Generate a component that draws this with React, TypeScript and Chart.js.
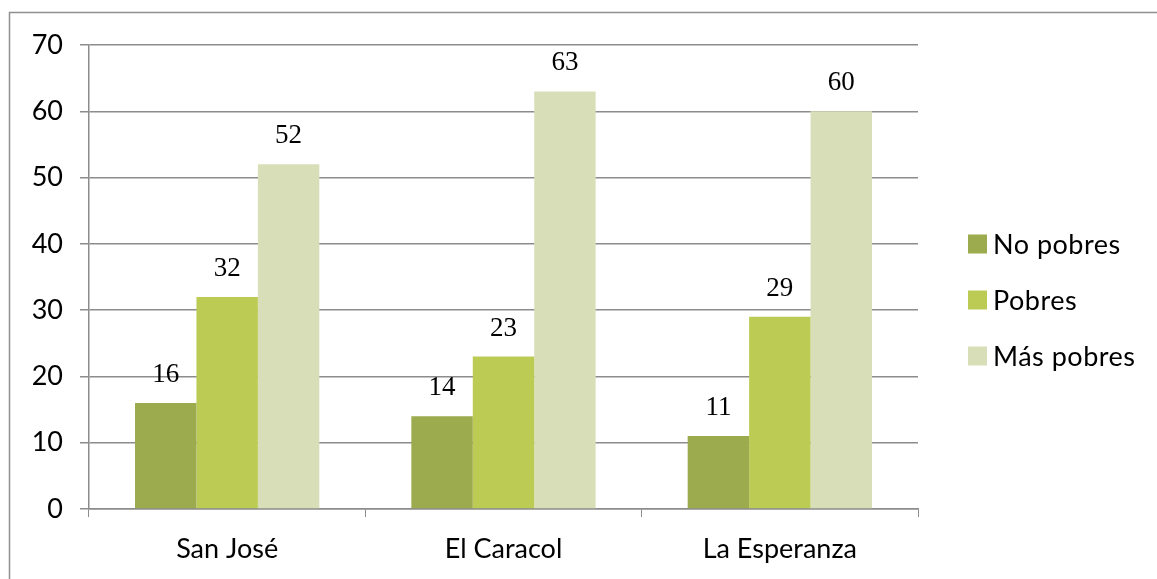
import React, { useEffect, useRef } from "react";
import { Chart, registerables } from "chart.js";

Chart.register(...registerables);

const categories = ["San José", "El Caracol", "La Esperanza"];
const seriesNames = ["No pobres", "Pobres", "Más pobres"];
const noPobres = [16, 14, 11];
const pobres = [32, 23, 29];
const masPobres = [52, 63, 60];
const seriesColors = ["#9bab4e", "#bccb53", "#d8dfb8"];
const yTicks = [0, 10, 20, 30, 40, 50, 60, 70];

const SANS = "Lato, 'Liberation Sans', sans-serif";
const SERIF = "'Liberation Serif', 'DejaVu Serif', serif";

// Outer frame of the chart (top and left edges)
const framePlugin = {
  id: "frame",
  beforeDraw(chart: any) {
    const { ctx, width, height } = chart;
    ctx.save();
    ctx.strokeStyle = "#909090";
    ctx.lineWidth = 1.5;
    ctx.beginPath();
    ctx.moveTo(9.5, height);
    ctx.lineTo(9.5, 12.5);
    ctx.lineTo(width, 12.5);
    ctx.stroke();
    ctx.restore();
  },
};

// Value labels above each bar
const valueLabelPlugin = {
  id: "valueLabels",
  afterDatasetsDraw(chart: any) {
    const { ctx } = chart;
    ctx.save();
    ctx.fillStyle = "#000";
    ctx.font = `27px ${SERIF}`;
    ctx.textAlign = "center";
    ctx.textBaseline = "alphabetic";
    chart.data.datasets.forEach((ds: any, di: number) => {
      const meta = chart.getDatasetMeta(di);
      meta.data.forEach((bar: any, i: number) => {
        ctx.fillText(String(ds.data[i]), bar.x, bar.y - 21);
      });
    });
    ctx.restore();
  },
};

// Legend at the right, one row per series
const sideLegendPlugin = {
  id: "sideLegend",
  afterDraw(chart: any) {
    const { ctx } = chart;
    const x0 = 968;
    const yStart = 244;
    const step = 56;
    const box = 19;
    ctx.save();
    ctx.font = `27px ${SANS}`;
    ctx.textAlign = "left";
    ctx.textBaseline = "middle";
    if ("letterSpacing" in ctx) (ctx as any).letterSpacing = "0.5px";
    chart.data.datasets.forEach((ds: any, i: number) => {
      const cy = yStart + i * step;
      ctx.fillStyle = ds.backgroundColor;
      ctx.fillRect(x0, cy - box / 2, box, box);
      ctx.fillStyle = "#000";
      ctx.fillText(ds.label, x0 + box + 6, cy + 1);
    });
    ctx.restore();
  },
};

export default function App() {
  const canvasRef = useRef<HTMLCanvasElement | null>(null);

  useEffect(() => {
    if (!canvasRef.current) return;
    const values = [noPobres, pobres, masPobres];
    const chart = new Chart(canvasRef.current, {
      type: "bar",
      data: {
        labels: categories,
        datasets: seriesNames.map((name, i) => ({
          label: name,
          data: values[i],
          backgroundColor: seriesColors[i],
          borderWidth: 0,
          categoryPercentage: 0.667,
          barPercentage: 1,
        })),
      },
      options: {
        responsive: false,
        animation: false,
        layout: { padding: { top: 45, right: 239, left: 0, bottom: 0 } },
        plugins: {
          legend: { display: false },
          tooltip: { enabled: false },
        },
        scales: {
          x: {
            grid: {
              drawOnChartArea: false,
              drawTicks: true,
              tickLength: 8,
              color: "#8c8c8c",
              offset: true,
            },
            border: { color: "#8c8c8c", width: 1.5 },
            ticks: {
              color: "#000",
              font: { family: SANS, size: 27 },
              padding: 16,
            },
            afterFit(scale: any) {
              scale.height = 70;
            },
          },
          y: {
            min: 0,
            max: 70,
            afterBuildTicks(scale: any) {
              scale.ticks = yTicks.map((v) => ({ value: v }));
            },
            grid: {
              color: "#8c8c8c",
              lineWidth: 1.5,
              tickLength: 9,
            },
            border: { color: "#8c8c8c", width: 1.5 },
            ticks: {
              color: "#000",
              font: { family: SANS, size: 27 },
              padding: 17,
            },
            afterFit(scale: any) {
              scale.width = 89;
            },
          },
        },
      },
      plugins: [framePlugin, valueLabelPlugin, sideLegendPlugin],
    });
    return () => chart.destroy();
  }, []);

  return (
    <div style={{ position: "absolute", left: 0, top: 0, width: 1157, height: 579, background: "#fff" }}>
      <canvas ref={canvasRef} width={1157} height={579} style={{ display: "block" }} />
    </div>
  );
}
